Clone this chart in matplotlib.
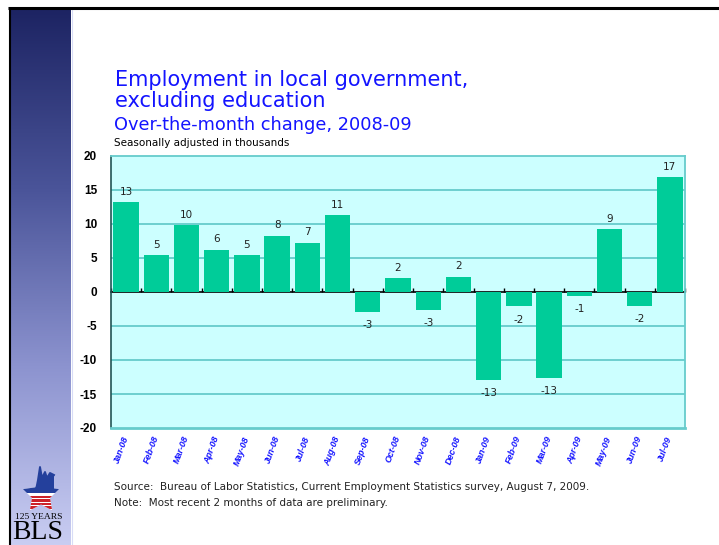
import numpy as np
import matplotlib
matplotlib.use("Agg")
import matplotlib.pyplot as plt
from matplotlib.patches import Polygon, Rectangle
from matplotlib.colors import LinearSegmentedColormap

# data (thousands, seasonally adjusted, over-the-month change)
months = ["Jan-08", "Feb-08", "Mar-08", "Apr-08", "May-08", "Jun-08", "Jul-08",
          "Aug-08", "Sep-08", "Oct-08", "Nov-08", "Dec-08", "Jan-09", "Feb-09",
          "Mar-09", "Apr-09", "May-09", "Jun-09", "Jul-09"]
changes = [13.2, 5.4, 9.8, 6.2, 5.4, 8.3, 7.2, 11.3, -2.9, 2.0, -2.6, 2.2,
           -12.9, -2.1, -12.6, -0.6, 9.2, -2.0, 16.9]
yticks = [20, 15, 10, 5, 0, -5, -10, -15, -20]

W, H = 719, 545
fig = plt.figure(figsize=(W / 100, H / 100), dpi=100)
fig.patch.set_facecolor("white")

arial = ["Liberation Sans", "DejaVu Sans"]
tahoma = ["DejaVu Sans"]
serif = ["Liberation Serif", "DejaVu Serif"]
blue = "#1414ff"

# background / decoration layer in pixel coords
bg = fig.add_axes([0, 0, 1, 1], zorder=0)
bg.set_xlim(0, W)
bg.set_ylim(H, 0)
bg.axis("off")

# gradient side bar
grad = np.linspace(0, 1, 256).reshape(-1, 1)
cmap = LinearSegmentedColormap.from_list("side", ["#1d2463", "#4a5499", "#8c93cf", "#c9cdf2"])
bg.imshow(grad, cmap=cmap, aspect="auto", extent=[11, 71, H, 10], zorder=1)
bg.plot([71.5, 71.5], [10, H], color="#d8dcf6", lw=0.8, zorder=2)
# frame lines
bg.plot([8, W], [7.5, 7.5], color="black", lw=2.2, zorder=3, solid_capstyle="butt")
bg.plot([9.5, 9.5], [7, H], color="black", lw=1.5, zorder=3, solid_capstyle="butt")

# BLS logo: star with blue band and chart line, red stripes below
cx, cy, R = 41, 495, 19
ang = np.deg2rad(90 + 36 * np.arange(10))
rad = np.where(np.arange(10) % 2 == 0, R, R * 0.5)
star = Polygon(np.column_stack([cx + rad * np.cos(ang), cy - rad * np.sin(ang)]),
               closed=True, facecolor="white", edgecolor="none", zorder=4)
bg.add_patch(star)
band = Rectangle((cx - R - 1, cy - R - 2), 2 * R + 2, R - 0.5, facecolor="#24409c", zorder=5)
bg.add_patch(band)
band.set_clip_path(star)
for k in range(5):
    s = Rectangle((cx - R, cy + 0.5 + k * 3.6), 2 * R, 2.6, facecolor="#cc2229", zorder=5)
    bg.add_patch(s)
    s.set_clip_path(star)
zig_x = [36, 38, 40, 42, 45, 47, 50, 54]
zig_y = [490, 480, 467, 478, 472, 478, 473, 475]
bg.fill(zig_x + [54, 36], zig_y + [490, 490], color="#24409c", zorder=5, lw=0)
bg.plot(zig_x, zig_y, color="#24409c", lw=1.4, zorder=6)
bg.text(39, 517, "125 YEARS", family=serif, fontsize=6.8, ha="center", va="center", zorder=6)
bg.text(38, 545, "BLS", family=serif, fontsize=20, ha="center", va="bottom", zorder=6)

# titles
bg.text(115, 86, "Employment in local government,", family=tahoma, fontsize=15,
        color=blue, va="baseline")
bg.text(115, 107, "excluding education", family=tahoma, fontsize=15,
        color=blue, va="baseline")
bg.text(114, 130, "Over-the-month change, 2008-09", family=tahoma, fontsize=12.8,
        color=blue, va="baseline")
bg.text(114, 146, "Seasonally adjusted in thousands", family=tahoma, fontsize=7.5,
        color="black", va="baseline")

# footnotes
bg.text(114, 490, "Source:  Bureau of Labor Statistics, Current Employment Statistics survey, August 7, 2009.",
        family=tahoma, fontsize=7.5, color="#222222", va="baseline")
bg.text(114, 506, "Note:  Most recent 2 months of data are preliminary.",
        family=tahoma, fontsize=7.5, color="#222222", va="baseline")

# main chart
ax = fig.add_axes([111 / W, 1 - 428 / H, 574 / W, 272 / H], zorder=2)
ax.set_facecolor("#ccffff")
x = np.arange(len(months))
ax.bar(x, changes, width=0.84, color="#00cc99", zorder=3)
ax.set_xlim(-0.5, len(months) - 0.5)
ax.set_ylim(-20, 20)
ax.set_yticks(yticks)
ax.set_yticklabels([str(v) for v in yticks], fontsize=8.5, fontweight="bold", family=arial)
ax.tick_params(axis="y", length=0, pad=10)
for v in yticks:
    if v not in (0, 20, -20):
        ax.axhline(v, color="#66cccc", lw=1.3, zorder=1)

for sp in ["top", "right", "bottom"]:
    ax.spines[sp].set_color("#66cccc")
    ax.spines[sp].set_linewidth(1.3)
ax.spines["bottom"].set_linewidth(2)
ax.spines["left"].set_color("#225555")
ax.spines["left"].set_linewidth(1.2)

ax.set_xticks(x)
ax.set_xticklabels(months, rotation=70, ha="right", va="center", rotation_mode="anchor",
                   fontsize=6.5, fontweight="bold", style="italic", color=blue, family=arial)
ax.tick_params(axis="x", length=0, pad=6)

# zero line with category boundary ticks
zero = ax.secondary_xaxis(0.5)
zero.set_xticks(np.arange(len(months) + 1) - 0.5)
zero.tick_params(direction="out", length=3, width=1, labelbottom=False, labeltop=False,
                 colors="black")
for sp in zero.spines.values():
    sp.set_color("black")
    sp.set_linewidth(1.2)

for xi, v in zip(x, changes):
    lab = f"{round(v):.0f}"
    if v >= 0:
        ax.annotate(lab, (xi, v), xytext=(0, 4), textcoords="offset points",
                    ha="center", va="bottom", fontsize=7.5, family=tahoma, color="#222222")
    else:
        ax.annotate(lab, (xi, v), xytext=(0, -6), textcoords="offset points",
                    ha="center", va="top", fontsize=7.5, family=tahoma, color="#222222")

fig.savefig("out.png", dpi=100)
